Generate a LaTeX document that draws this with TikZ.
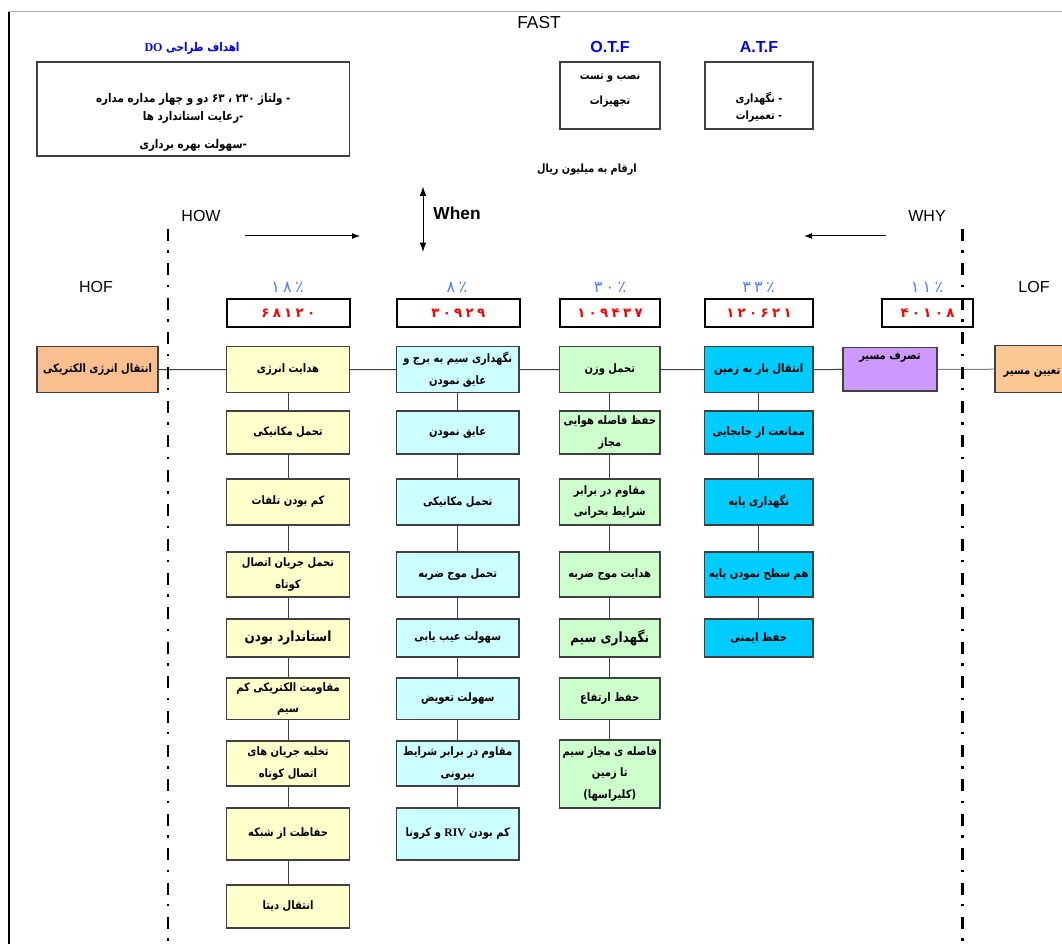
\documentclass[tikz,border=0pt]{standalone}
\usepackage{fontspec}
\setmainfont{Liberation Sans}
\newfontfamily\fafont[Script=Arabic, FakeStretch=0.86]{DejaVu Sans}
\newfontfamily\numfont{DejaVu Sans}
\newfontfamily\latfont{Liberation Serif}
\TeXXeTstate=1
\usepackage{xcolor}
\usepackage{tikz}
\usetikzlibrary{arrows.meta}

\definecolor{edge}{HTML}{404040}
\definecolor{hofcol}{HTML}{F9BF8F}
\definecolor{lofcol}{HTML}{FCC793}
\definecolor{yelcol}{HTML}{FFFFCC}
\definecolor{cyacol}{HTML}{CCFFFF}
\definecolor{grncol}{HTML}{CCFFCC}
\definecolor{blucol}{HTML}{00CCFF}
\definecolor{purcol}{HTML}{CC99FF}
\definecolor{pctblue}{HTML}{4F7FFF}
\definecolor{ttlblue}{HTML}{0000FF}
\definecolor{valred}{HTML}{FF0000}

\newcommand{\rtl}[1]{\beginR #1\endR}
\newcommand{\dsep}{\hspace{2.5pt}}

\begin{document}
\begin{tikzpicture}[x=0.75pt, y=-0.75pt,
  fbox/.style={draw=edge, line width=0.9pt, align=center, inner sep=1pt,
    font=\fafont\bfseries\fontsize{8.7}{16}\selectfont},
  yelbox/.style={fbox, fill=yelcol, minimum width=92.2pt},
  cyabox/.style={fbox, fill=cyacol, minimum width=91.9pt},
  grnbox/.style={fbox, fill=grncol, minimum width=75.4pt},
  blubox/.style={fbox, fill=blucol, minimum width=81.4pt},
  valbox/.style={draw=black, line width=1.6pt, minimum height=21pt, inner sep=1pt,
    text=valred, font=\numfont\bfseries\fontsize{10}{12}\selectfont},
  pct/.style={text=pctblue, font=\numfont\fontsize{12}{13}\selectfont},
  lbl/.style={font=\fontsize{12}{14}\selectfont},
  fatext/.style={align=center, inner sep=0pt, font=\fafont\bfseries\fontsize{9}{13.5}\selectfont},
  link/.style={draw=edge, line width=0.75pt},
  flow/.style={-{Latex[length=6pt, width=4.5pt]}, line width=0.75pt},
  sepline/.style={line width=1.6pt, dash pattern=on 9pt off 7pt on 1.8pt off 8pt}
]
  \useasboundingbox (0,0) rectangle (1062,944);
  \clip (0,0) rectangle (1062,944);
  \fill[white] (0,0) rectangle (1062,944);

  % page frame
  \draw[gray!60, line width=0.75pt] (8,12) -- (1062,12);
  \draw[line width=2pt] (9,12) -- (9,944);

  % heading and objectives
  \node[lbl, font=\fontsize{13}{15}\selectfont] (fast) at (539,23) {FAST};
  \node[text=ttlblue, font=\fafont\bfseries\fontsize{9}{10}\selectfont] (dotitle) at (192,48)
    {\rtl{اهداف طراحی \beginL{\latfont\bfseries DO}\endL}};
  \node[draw=edge, line width=0.9pt, minimum width=234.4pt, minimum height=70.5pt] (dobox) at (193.25,109) {};
  \node[fatext] (dotext) at (193.25,122)
    {\rtl{- ولتاژ \beginL ۲۳۰\endL{} ، \beginL ۶۳\endL{} دو و چهار مداره مداره}\\
     \rtl{-رعایت استاندارد ها}\\[7.5pt]
     \rtl{-سهولت بهره برداری}};

  \node[lbl, font=\bfseries\fontsize{12}{14}\selectfont, text=ttlblue] (otflbl) at (610,47) {O.T.F};
  \node[draw=edge, line width=0.9pt, minimum width=75pt, minimum height=50.25pt] (otf) at (610,95.5) {};
  \node[fatext, font=\fafont\bfseries\fontsize{8.5}{18.75}\selectfont] (otftext) at (610,91)
    {\rtl{نصب و تست}\\ \rtl{تجهیزات}};

  \node[lbl, font=\bfseries\fontsize{12}{14}\selectfont, text=ttlblue] (atflbl) at (759,47) {A.T.F};
  \node[draw=edge, line width=0.9pt, minimum width=81pt, minimum height=50.25pt] (atf) at (759,95.5) {};
  \node[fatext, font=\fafont\bfseries\fontsize{8.5}{12.75}\selectfont] (atftext) at (759,107.5)
    {\rtl{- نگهداری}\\ \rtl{- تعمیرات}};

  \node[fatext, font=\fafont\bfseries\fontsize{8.5}{10}\selectfont] (unit) at (587,170) {\rtl{ارقام به میلیون ریال}};

  % direction labels
  \node[lbl] (how) at (201,216) {HOW};
  \node[lbl] (why) at (927,216) {WHY};
  \node[lbl, font=\bfseries\fontsize{13}{15}\selectfont] (when) at (457,213) {When};
  \node[lbl] (hof) at (96,287) {HOF};
  \node[lbl] (lof) at (1034,287) {LOF};
  \coordinate (howS) at (244.5,236);
  \coordinate (howE) at (360,236);
  \coordinate (whyS) at (886,236);
  \coordinate (whyE) at (804,236);
  \coordinate (whenT) at (423,186.5);
  \coordinate (whenB) at (423,252);
  \draw[flow] (howS) -- (howE);
  \draw[flow] (whyS) -- (whyE);
  \draw[{Latex[length=7pt, width=5pt]}-{Latex[length=7pt, width=5pt]}, line width=0.75pt] (whenT) -- (whenB);

  % shares and costs
  \node[pct] (pct1) at (287.5,287) {۱\dsep ۸\dsep ٪};
  \node[pct] (pct2) at (457,287) {۸\dsep ٪};
  \node[pct] (pct3) at (610,287) {۳\dsep ۰\dsep ٪};
  \node[pct] (pct4) at (758.5,287) {۳\dsep ۳\dsep ٪};
  \node[pct] (pct5) at (927,287) {۱\dsep ۱\dsep ٪};
  \node[valbox, minimum width=92.5pt] (v1) at (288.3,313) {۶\dsep ۸\dsep ۱\dsep ۲\dsep ۰};
  \node[valbox, minimum width=92.5pt] (v2) at (458.3,313) {۳\dsep ۰\dsep ۹\dsep ۲\dsep ۹};
  \node[valbox, minimum width=75pt] (v3) at (610,313) {۱\dsep ۰\dsep ۹\dsep ۴\dsep ۳\dsep ۷};
  \node[valbox, minimum width=81pt] (v4) at (759,313) {۱\dsep ۲\dsep ۰\dsep ۶\dsep ۲\dsep ۱};
  \node[valbox, minimum width=68.25pt] (v5) at (927.5,313) {۴\dsep ۰\dsep ۱\dsep ۰\dsep ۸};

  % main function row
  \node[fbox, fill=hofcol, minimum width=90.75pt, minimum height=34.5pt] (transmit) at (97.5,369.7) {\rtl{انتقال انرژی الکتریکی}};
  \node[yelbox, minimum height=34.5pt] (conduct) at (288,369.7) {\rtl{هدایت انرژی}};
  \node[cyabox, minimum height=34.5pt] (hold) at (457.75,369.7) {\rtl{نگهداری سیم به برج و}\\ \rtl{عایق نمودن}};
  \node[grnbox, minimum height=34.5pt] (weight) at (609.75,369.7) {\rtl{تحمل وزن}};
  \node[blubox, minimum height=34.5pt] (ground) at (758.75,369.7) {\rtl{انتقال بار به زمین}};
  \node[fbox, fill=purcol, minimum width=70.5pt, minimum height=32.5pt] (seize) at (890,369.35) {};
  \node[fatext, font=\fafont\bfseries\fontsize{8.7}{10}\selectfont] (seizetext) at (890,357.5) {\rtl{تصرف مسیر}};
  \node[fbox, fill=lofcol, minimum width=67.5pt, minimum height=35.25pt] (findroute) at (1040,369.2) {};
  \node[fatext, font=\fafont\bfseries\fontsize{8.7}{10}\selectfont] (findtext) at (1032,373) {\rtl{تعیین مسیر}};

  % column 1
  \node[yelbox, minimum height=32.25pt] (mecha) at (288,432.5) {\rtl{تحمل مکانیکی}};
  \node[yelbox, minimum height=34.5pt] (loss) at (288,502) {\rtl{کم بودن تلفات}};
  \node[yelbox, minimum height=33.75pt] (shortc) at (288,574.5) {\rtl{تحمل جریان اتصال}\\ \rtl{کوتاه}};
  \node[yelbox, minimum height=28.5pt, font=\fafont\bfseries\fontsize{10.5}{16}\selectfont] (stand) at (288,638) {\rtl{استاندارد بودن}};
  \node[yelbox, minimum height=31.1pt] (resist) at (288,698.75) {\rtl{مقاومت الکتریکی کم}\\ \rtl{سیم}};
  \node[yelbox, minimum height=33.75pt] (drain) at (288,763.5) {\rtl{تخلیه جریان های}\\ \rtl{اتصال کوتاه}};
  \node[yelbox, minimum height=39pt] (protect) at (288,834) {\rtl{حفاظت از شبکه}};
  \node[yelbox, minimum height=32.25pt] (data) at (288,906.5) {\rtl{انتقال دیتا}};

  % column 2
  \node[cyabox, minimum height=32.25pt] (insul) at (457.75,432.5) {\rtl{عایق نمودن}};
  \node[cyabox, minimum height=34.5pt] (mechb) at (457.75,502) {\rtl{تحمل مکانیکی}};
  \node[cyabox, minimum height=33.75pt] (surge) at (457.75,574.5) {\rtl{تحمل موج ضربه}};
  \node[cyabox, minimum height=28.5pt] (fault) at (457.75,638) {\rtl{سهولت عیب یابی}};
  \node[cyabox, minimum height=31.1pt] (replace) at (457.75,698.75) {\rtl{سهولت تعویض}};
  \node[cyabox, minimum height=33.75pt] (outdoor) at (457.75,763.5) {\rtl{مقاوم در برابر شرایط}\\ \rtl{بیرونی}};
  \node[cyabox, minimum height=39pt] (corona) at (457.75,834) {\rtl{کم بودن \beginL{\latfont\bfseries RIV}\endL{} و کرونا}};

  % column 3
  \node[grnbox, minimum height=32.25pt] (airgap) at (609.75,432.5) {\rtl{حفظ فاصله هوایی}\\ \rtl{مجاز}};
  \node[grnbox, minimum height=34.5pt] (crit) at (609.75,502) {\rtl{مقاوم در برابر}\\ \rtl{شرایط بحرانی}};
  \node[grnbox, minimum height=33.75pt] (surgec) at (609.75,574.5) {\rtl{هدایت موج ضربه}};
  \node[grnbox, minimum height=28.5pt, font=\fafont\bfseries\fontsize{10.5}{16}\selectfont] (wire) at (609.75,638) {\rtl{نگهداری سیم}};
  \node[grnbox, minimum height=31.1pt] (height) at (609.75,698.75) {\rtl{حفظ ارتفاع}};
  \node[grnbox, minimum height=51pt] (clear) at (609.75,774) {\rtl{فاصله ی مجاز سیم}\\ \rtl{تا زمین}\\ \rtl{(کلیراسها)}};

  % column 4
  \node[blubox, minimum height=32.25pt] (shift) at (758.75,432.5) {\rtl{ممانعت از جابجایی}};
  \node[blubox, minimum height=34.5pt] (base) at (758.75,502) {\rtl{نگهداری پایه}};
  \node[blubox, minimum height=33.75pt] (level) at (758.75,574.5) {\rtl{هم سطح نمودن پایه}};
  \node[blubox, minimum height=28.5pt] (safety) at (758.75,638) {\rtl{حفظ ایمنی}};

  % connectors
  \draw[link] (transmit) -- (conduct) -- (hold) -- (weight) -- (ground) -- (seize);
  \draw[link, draw=gray] (seize) -- (findroute);
  \draw[link] (conduct) -- (mecha) -- (loss) -- (shortc) -- (stand) -- (resist) -- (drain) -- (protect) -- (data);
  \draw[link] (hold) -- (insul) -- (mechb) -- (surge) -- (fault) -- (replace) -- (outdoor) -- (corona);
  \draw[link] (weight) -- (airgap) -- (crit) -- (surgec) -- (wire) -- (height) -- (clear);
  \draw[link] (ground) -- (shift) -- (base) -- (level) -- (safety);

  % HOF / LOF limits
  \draw[sepline] (168,229) -- (168,944);
  \draw[sepline] (962.5,229) -- (962.5,944);
\end{tikzpicture}
\end{document}
